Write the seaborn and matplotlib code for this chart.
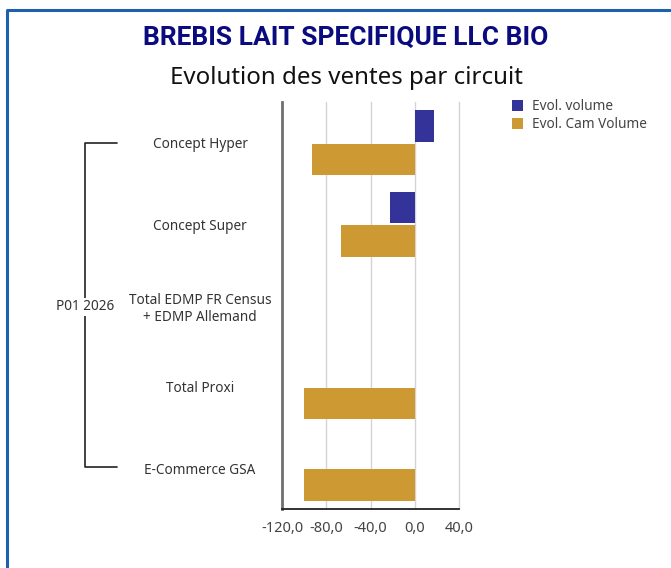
import matplotlib
matplotlib.use("Agg")
import matplotlib.pyplot as plt
from matplotlib.lines import Line2D
from matplotlib.patches import Patch
import numpy as np
import pandas as pd
import seaborn as sns

# Channels and their sales evolution (%)
circuits = [
    "Concept Hyper",
    "Concept Super",
    "Total EDMP FR Census\n+ EDMP Allemand",
    "Total Proxi",
    "E-Commerce GSA",
]
evol_volume = [17.4, -22.3, np.nan, np.nan, np.nan]
evol_cam_volume = [-92.7, -66.5, np.nan, -100.0, -100.0]
series_names = ["Evol. volume", "Evol. Cam Volume"]
series_colors = ["#333399", "#CC9933"]
x_ticks = [-120, -80, -40, 0, 40]
x_tick_labels = ["-120,0", "-80,0", "-40,0", "0,0", "40,0"]
period_label = "P01 2026"

df = pd.DataFrame({
    "circuit": circuits * 2,
    "serie": [series_names[0]] * len(circuits) + [series_names[1]] * len(circuits),
    "valeur": evol_volume + evol_cam_volume,
})

sns.set_theme(style="white")
plt.rcParams["font.family"] = ["Noto Sans", "DejaVu Sans"]

W, H = 671, 568
fig = plt.figure(figsize=(W / 100, H / 100), dpi=100)
fig.patch.set_facecolor("white")

ax = fig.add_axes([282 / W, 1 - 509 / H, (459 - 282) / W, (509 - 102) / H])

sns.barplot(
    data=df, x="valeur", y="circuit", hue="serie", order=circuits,
    hue_order=series_names, palette=series_colors, orient="h",
    width=0.82, gap=0.05, saturation=1, legend=False, linewidth=0, ax=ax,
)

ax.set_xlim(-120, 40)
ax.set_xticks(x_ticks)
ax.set_xticklabels(x_tick_labels, fontsize=10.5, color="#444444")
ax.tick_params(axis="x", length=0, pad=9)
ax.xaxis.grid(True, color="#d4d4d4", linewidth=1)
for gl in ax.get_xgridlines():
    gl.set_clip_on(False)
ax.set_axisbelow(True)
ax.set_xlabel("")
ax.set_ylabel("")

ax.tick_params(axis="y", length=0, pad=59)
for lbl in ax.get_yticklabels():
    lbl.set_horizontalalignment("center")
    lbl.set_multialignment("center")
    lbl.set_fontsize(9.8)
    lbl.set_color("#333333")

for side in ["top", "right"]:
    ax.spines[side].set_visible(False)
ax.spines["left"].set_color("#707070")
ax.spines["left"].set_linewidth(2)
ax.spines["bottom"].set_color("#222222")
ax.spines["bottom"].set_linewidth(1.3)

# Period bracket grouping all channels
bx, bx2 = 85 / W, 117 / W
y_top, y_bot = 1 - 143 / H, 1 - 467 / H
fig.add_artist(Line2D([bx2, bx, bx, bx2], [y_top, y_top, y_bot, y_bot],
                      color="#222222", linewidth=1.2, transform=fig.transFigure))
fig.text(bx, 1 - 307 / H, period_label, ha="center", va="center", fontsize=9.8,
         color="#333333", bbox=dict(facecolor="white", edgecolor="none", pad=1))

# Titles
fig.text(346 / W, 1 - 38 / H, "BREBIS LAIT SPECIFIQUE LLC BIO", ha="center",
         va="center", fontsize=19, fontweight="bold", color="#0b0b80",
         family=["Roboto", "DejaVu Sans"])
fig.text(346 / W, 1 - 78 / H, "Evolution des ventes par circuit", ha="center",
         va="center", fontsize=17.3, color="#111111")

# Legend
handles = [Patch(facecolor=c, edgecolor="none") for c in series_colors]
fig.legend(handles, series_names, loc="upper left",
           bbox_to_anchor=(505 / W, 1 - 92 / H), frameon=False, fontsize=9.8,
           handlelength=0.85, handleheight=0.85, handletextpad=0.6,
           labelspacing=0.25, borderpad=0, labelcolor="#444444")

# Panel frame (top and left edges)
fig.add_artist(Line2D([7 / W, 7 / W, 1], [0, 1 - 10 / H, 1 - 10 / H],
                      color="#1f5fb0", linewidth=2.2, transform=fig.transFigure))

fig.savefig("out.png", dpi=100)
